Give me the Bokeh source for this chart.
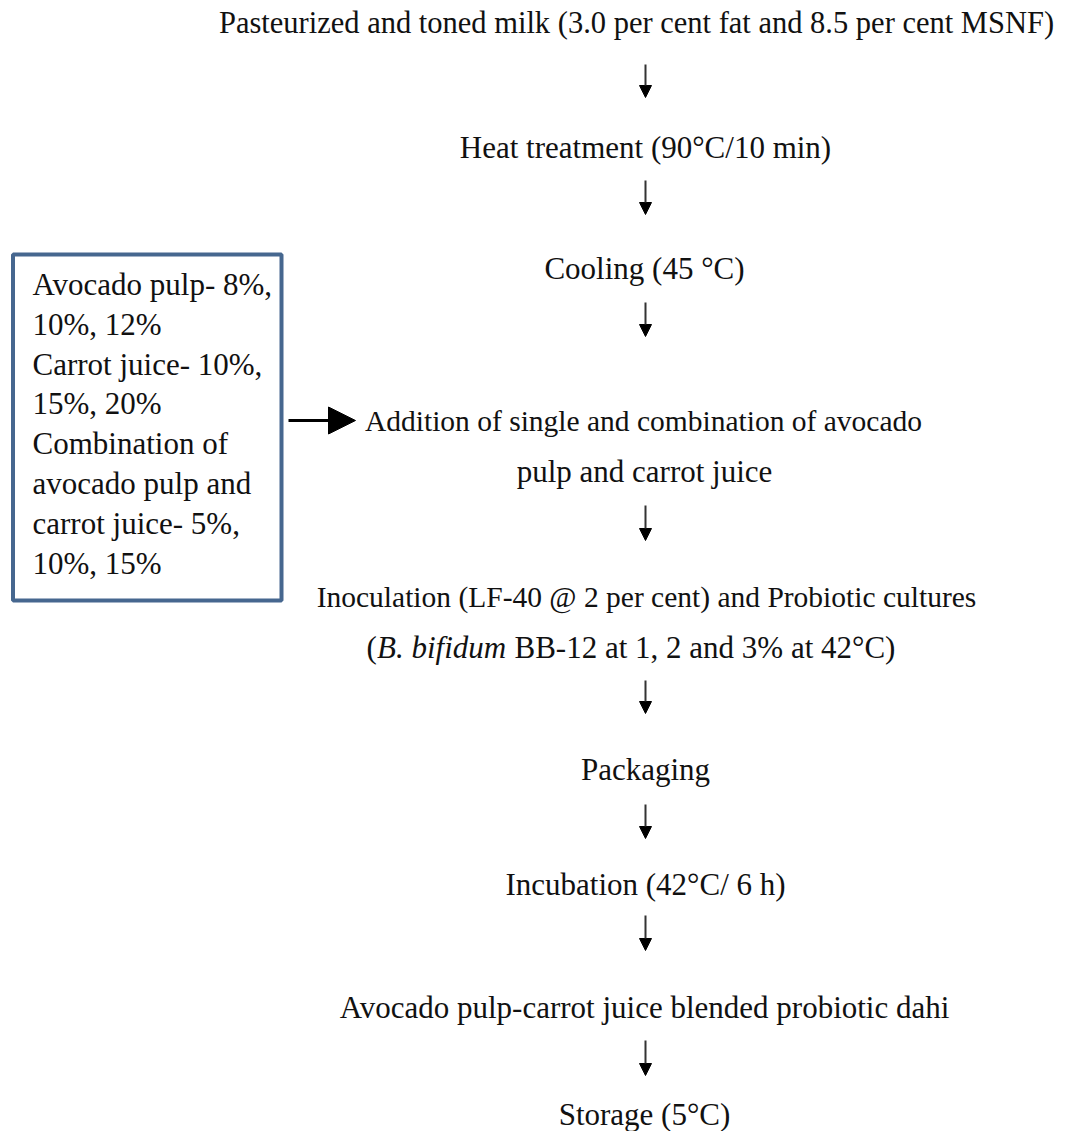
from bokeh.plotting import figure
from bokeh.models import Range1d, Arrow, NormalHead, ColumnDataSource
from bokeh.core.properties import value
from bokeh.embed import file_html
from bokeh.resources import INLINE

# ---- content ----
step_labels = [
    "Pasteurized and toned milk (3.0 per cent fat and 8.5 per cent MSNF)",
    "Heat treatment (90°C/10 min)",
    "Cooling (45 °C)",
    "Addition of single and combination of avocado",
    "pulp and carrot juice",
    "Inoculation (LF-40 @ 2 per cent) and Probiotic cultures",
    "Packaging",
    "Incubation (42°C/ 6 h)",
    "Avocado pulp-carrot juice blended probiotic dahi",
    "Storage (5°C)",
]
italic_parts = ["(", "B. bifidum", "BB-12 at 1, 2 and 3% at 42°C)"]
box_lines = [
    "Avocado pulp- 8%,",
    "10%, 12%",
    "Carrot juice- 10%,",
    "15%, 20%",
    "Combination of",
    "avocado pulp and",
    "carrot juice- 5%,",
    "10%, 15%",
]

# ---- layout (pixel-like coordinates) ----
W, H = 1060, 1131
CX = 645
step_y = [22, 147, 268, 420, 471, 596, 769, 884, 1007, 1114]
step_x = [636, 645, 644, 643, 644, 646, 645, 645, 644, 644]
step_fs = ["30.5px", "31px", "31px", "29.5px", "31px", "29.5px", "31px", "31px", "31px", "31px"]
arrow_y = [(64, 97), (180, 214), (302, 336), (505, 540), (680, 713), (804, 838), (915, 950), (1040, 1075)]
box_y0 = 284
box_dy = 39.8
FONT = value("Liberation Serif")
FS = "31px"

p = figure(width=W, height=H, output_backend="svg", toolbar_location=None,
           x_range=Range1d(0, W), y_range=Range1d(H, 0), min_border=0)
p.axis.visible = False
p.grid.visible = False
p.outline_line_color = None
p.background_fill_color = "white"
p.border_fill_color = "white"

src = ColumnDataSource(dict(x=step_x, y=step_y, t=step_labels, fs=step_fs))
p.text(x="x", y="y", text="t", source=src, text_align="center", text_baseline="middle",
       text_font=FONT, text_font_size="fs", text_color="#111111")

# mixed-style line
ix = [366, 376.5, 514]
istyle = ["normal", "italic", "normal"]
for xx, t, st in zip(ix, italic_parts, istyle):
    p.text(x=[xx], y=[647], text=[t], text_align="left", text_baseline="middle",
           text_font=FONT, text_font_size=FS, text_font_style=st, text_color="#111111")

# vertical arrows
for y0, y1 in arrow_y:
    p.add_layout(Arrow(x_start=CX, y_start=y0, x_end=CX, y_end=y1, line_width=2,
                       line_color="#333333",
                       end=NormalHead(size=12, fill_color="black", line_color="black", line_width=1)))

# horizontal arrow from box
p.add_layout(Arrow(x_start=288, y_start=420, x_end=355, y_end=420, line_width=3,
                   line_color="black",
                   end=NormalHead(size=27, fill_color="black", line_color="black", line_width=1)))

# box
p.quad(left=[12.5], right=[281], top=[254], bottom=[600], fill_color="white",
       line_color="#46678f", line_width=4)
bsrc = ColumnDataSource(dict(x=[32] * len(box_lines),
                             y=[box_y0 + i * box_dy for i in range(len(box_lines))],
                             t=box_lines))
p.text(x="x", y="y", text="t", source=bsrc, text_align="left", text_baseline="middle",
       text_font=FONT, text_font_size=FS, text_color="#111111")

open("out.html", "w").write(file_html(p, INLINE))
